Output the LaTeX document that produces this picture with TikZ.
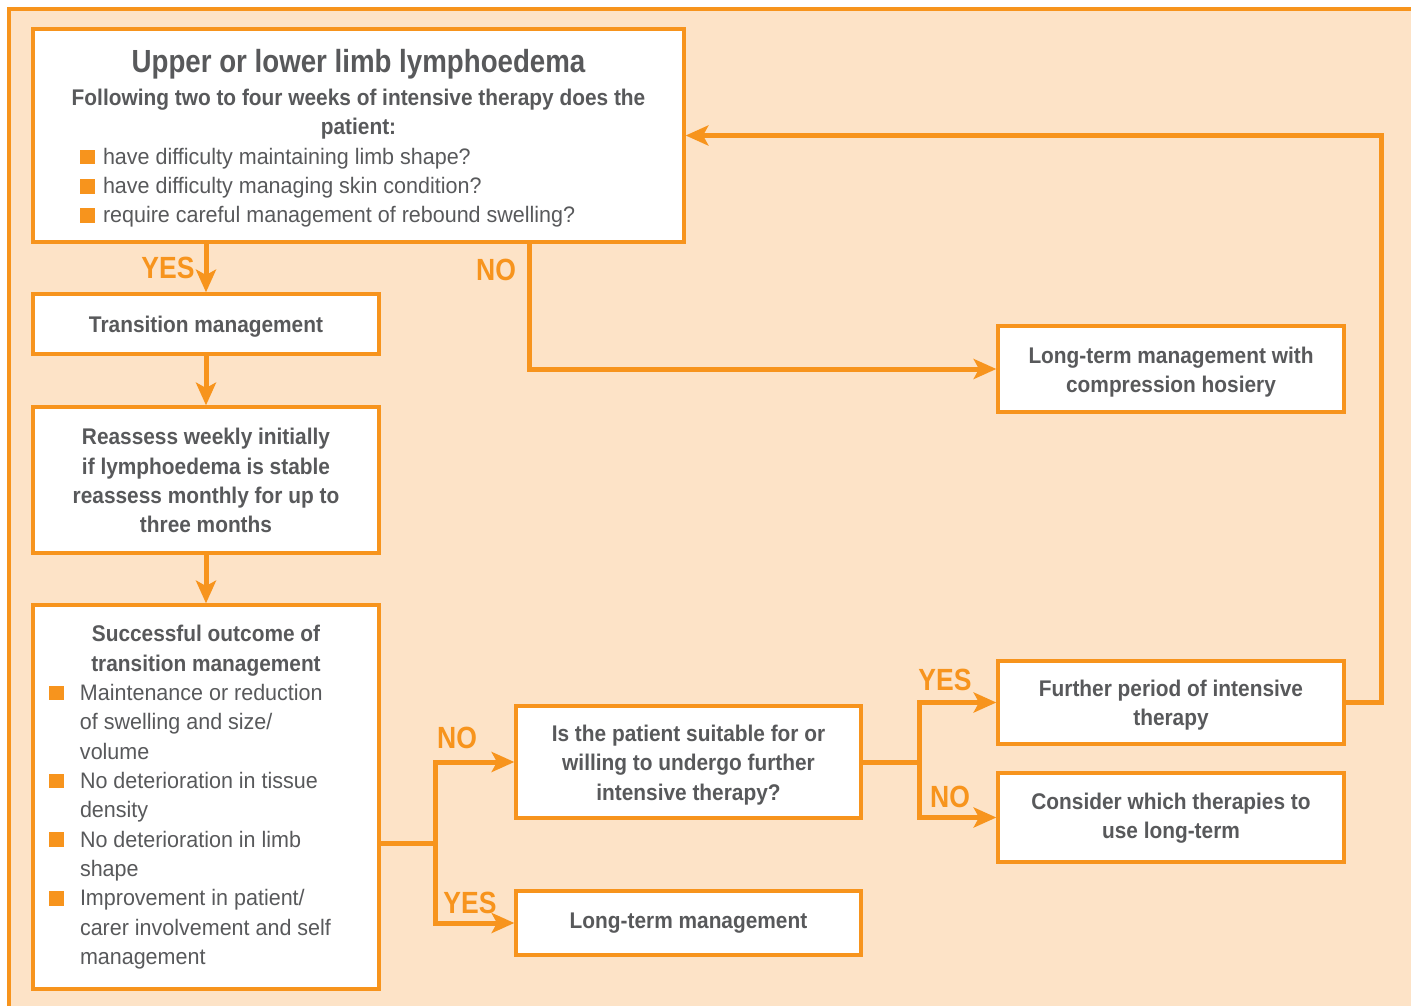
\documentclass[tikz,border=0pt]{standalone}
\usepackage{fontspec}
\setmainfont[FakeStretch=0.96]{Liberation Sans}
\newfontfamily\bfont[FakeStretch=0.92]{Liberation Sans}
\newfontfamily\condfont[FakeStretch=0.865]{Liberation Sans}
\usetikzlibrary{arrows.meta}
\definecolor{org}{HTML}{F7941D}
\definecolor{peach}{HTML}{FDE3C7}
\definecolor{txt}{HTML}{58595B}
\newcommand{\sqb}{{\color{org}\rule{11pt}{11pt}}}
\newcommand{\reg}{\normalfont\fontsize{16.8}{22}\selectfont}
\newcommand{\tst}{\rule{0pt}{19pt}}
\newcommand{\bst}{\rule[-6pt]{0pt}{6pt}}
\begin{document}
\begin{tikzpicture}[x=0.75pt,y=-0.75pt,
  box/.style={draw=org, line width=2.5pt, fill=white, text=txt, align=center, inner sep=0pt,
    font=\bfont\bfseries\fontsize{17}{22}\selectfont},
  conn/.style={draw=org, line width=3.75pt},
  arr/.style={conn, -{Stealth[length=17pt,width=15pt,inset=4pt]}},
  lab/.style={text=org, font=\condfont\bfseries\fontsize{23}{23}\selectfont, inner sep=0pt}
]
\useasboundingbox (0,0) rectangle (1411,1006);
\fill[peach] (9,9) rectangle (1411,1006);
\draw[org, line width=2.5pt] (9,1006) -- (9,9) -- (1411,9);

\node[box, minimum width=488.25pt, minimum height=159.75pt] (top) at (358.5,135.5)
 {{\condfont\bfseries\fontsize{24}{26}\selectfont\rule{0pt}{24pt}Upper or lower limb lymphoedema}\\[3pt]
  Following two to four weeks of intensive therapy does the\\
  patient:\\
  \makebox[417.75pt][l]{\sqb\hspace{6.25pt}\reg have difficulty maintaining limb shape?}\\
  \makebox[417.75pt][l]{\sqb\hspace{6.25pt}\reg have difficulty managing skin condition?}\\
  \makebox[417.75pt][l]{\sqb\hspace{6.25pt}\reg require careful management of rebound swelling?}\bst};

\node[box, minimum width=259.5pt, minimum height=45pt] (trans) at (206,324) {\tst\bst Transition management};

\node[box, minimum width=259.5pt, minimum height=109.5pt] (reas) at (206,480)
 {\tst Reassess weekly initially\\ if lymphoedema is stable\\ reassess monthly for up to\\ \bst three months};

\node[box, minimum width=259.5pt, minimum height=288pt] (succ) at (206,797)
 {\rule{0pt}{15pt}Successful outcome of\\
  transition management\\
  \makebox[235.5pt][l]{\sqb\hspace{12.25pt}\reg Maintenance or reduction}\\
  \makebox[235.5pt][l]{\hspace{23.25pt}\reg of swelling and size/}\\
  \makebox[235.5pt][l]{\hspace{23.25pt}\reg volume}\\
  \makebox[235.5pt][l]{\sqb\hspace{12.25pt}\reg No deterioration in tissue}\\
  \makebox[235.5pt][l]{\hspace{23.25pt}\reg density}\\
  \makebox[235.5pt][l]{\sqb\hspace{12.25pt}\reg No deterioration in limb}\\
  \makebox[235.5pt][l]{\hspace{23.25pt}\reg shape}\\
  \makebox[235.5pt][l]{\sqb\hspace{12.25pt}\reg Improvement in patient/}\\
  \makebox[235.5pt][l]{\hspace{23.25pt}\reg carer involvement and self}\\
  \makebox[235.5pt][l]{\hspace{23.25pt}\reg management}\bst};

\node[box, minimum width=258.75pt, minimum height=84pt] (q) at (688.5,762)
 {\tst Is the patient suitable for or\\ willing to undergo further\\ \bst intensive therapy?};
\node[box, minimum width=258.75pt, minimum height=48pt] (ltm) at (688.5,923) {Long-term management};
\node[box, minimum width=259.5pt, minimum height=64.5pt] (comp) at (1171,369)
 {\tst Long-term management with\\ \bst compression hosiery};
\node[box, minimum width=259.5pt, minimum height=62.25pt] (fur) at (1171,702.5)
 {\tst Further period of intensive\\ \bst therapy};
\node[box, minimum width=259.5pt, minimum height=66.75pt] (cons) at (1171,817.5)
 {\rule{0pt}{16pt}Consider which therapies to\\ \bst use long-term};

\coordinate (nox) at (529,0);
\coordinate (j1) at (435,843);
\coordinate (j2) at (919,762);
\coordinate (lx) at (1381,0);

\draw[arr] (top.south -| trans.north) -- (trans.north);
\draw[arr] (top.south -| nox) |- (comp.west);
\draw[arr] (trans.south) -- (reas.north);
\draw[arr] (reas.south) -- (succ.north);
\draw[conn] (succ.east |- j1) -- (j1);
\draw[arr] (j1) |- (q.west);
\draw[arr] (j1) |- (ltm.west);
\draw[conn] (q.east) -- (j2);
\draw[arr] (j2) |- (fur.west);
\draw[arr] (j2) |- (cons.west);
\draw[arr] (fur.east) -| (lx |- top.east) -- (top.east);

\node[lab] (l1) at (168,268) {YES};
\node[lab] (l2) at (496,270) {NO};
\node[lab] (l3) at (457,738) {NO};
\node[lab] (l4) at (470,903) {YES};
\node[lab] (l5) at (945,680) {YES};
\node[lab] (l6) at (950,797) {NO};
\end{tikzpicture}
\end{document}
